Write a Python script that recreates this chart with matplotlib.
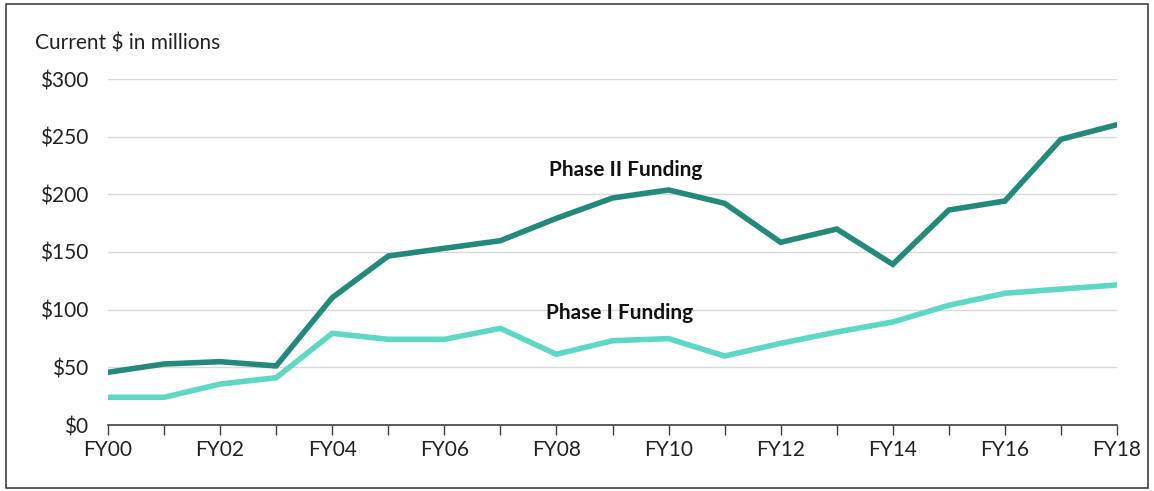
import matplotlib
matplotlib.use("Agg")
import matplotlib.pyplot as plt
from matplotlib.patches import Rectangle

# fiscal years FY00..FY18
years = list(range(0, 19))
year_labels = ["FY%02d" % y if y % 2 == 0 else "" for y in years]

phase2 = [45.7, 52.9, 54.9, 51.2, 110.4, 146.5, 153.2, 159.8, 179.2, 196.8,
          203.8, 192.2, 158.4, 169.9, 139.3, 186.4, 194.2, 247.7, 260.4]
phase1 = [24.0, 24.0, 35.5, 41.0, 79.5, 74.3, 74.3, 83.8, 61.3, 73.1,
          74.9, 59.8, 70.8, 80.6, 89.3, 103.8, 114.2, 117.9, 121.4]

y_ticks = [0, 50, 100, 150, 200, 250, 300]

plt.rcParams['font.family'] = ['Lato', 'DejaVu Sans']

fig = plt.figure(figsize=(11.54, 4.91), dpi=100)
ax = fig.add_axes([108 / 1154, 1 - 425 / 491, (1117 - 108) / 1154, (425 - 79) / 491])

# frame around the whole figure
fig.patches.append(Rectangle((6 / 1154, 3 / 491), 1142 / 1154, 484 / 491,
                             transform=fig.transFigure, fill=False,
                             edgecolor="#404040", linewidth=1.2))

ax.plot(years, phase2, color="#23897a", linewidth=4, solid_joinstyle="miter", zorder=3)
ax.plot(years, phase1, color="#5cd8c4", linewidth=4, solid_joinstyle="miter", zorder=3)

ax.text(9.24, 221, "Phase II Funding", ha="center", va="center",
        fontsize=15, fontweight="bold", color="#111111")
ax.text(9.13, 97, "Phase I Funding", ha="center", va="center",
        fontsize=15, fontweight="bold", color="#111111")

ax.set_xlim(0, 18)
ax.set_ylim(0, 300)
ax.set_xticks(years)
ax.set_xticklabels(year_labels)
ax.set_yticks(y_ticks)
ax.set_yticklabels(["$%d" % v for v in y_ticks])

for v in y_ticks[1:]:
    ax.axhline(v, color="#d9d9d9", linewidth=1, zorder=1)

for side in ["left", "right", "top"]:
    ax.spines[side].set_visible(False)
ax.spines["bottom"].set_color("#404040")
ax.spines["bottom"].set_linewidth(1.2)

ax.tick_params(axis="x", direction="out", length=7, width=1, color="#404040",
               labelsize=15, labelcolor="#222222", pad=4)
ax.tick_params(axis="y", length=0, labelsize=15, labelcolor="#222222", pad=14)

fig.text(35 / 1154, 1 - 44 / 491, "Current $ in millions", ha="left", va="center",
         fontsize=15, color="#222222")

fig.savefig("out.png", dpi=100)
